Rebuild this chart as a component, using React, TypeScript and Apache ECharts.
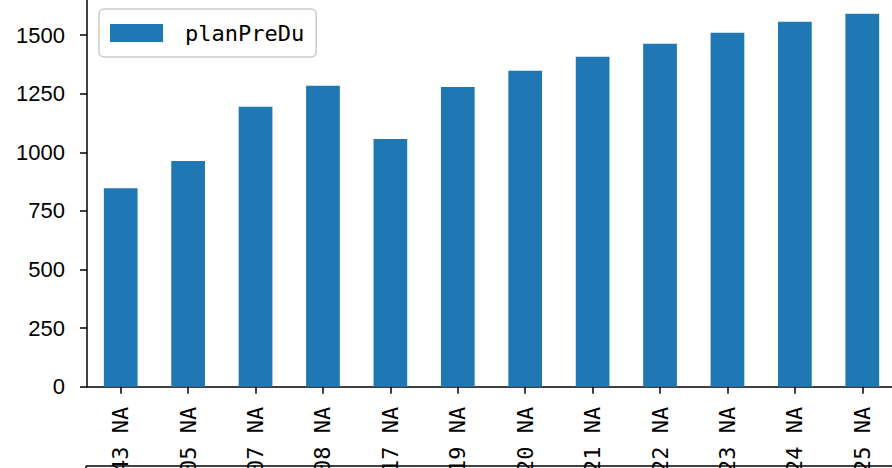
import React, { useEffect, useRef } from "react";
import * as echarts from "echarts";

const categories = ["43 NA", "05 NA", "07 NA", "08 NA", "17 NA", "19 NA", "20 NA", "21 NA", "22 NA", "23 NA", "24 NA", "25 NA"];
const planPreDu = [847, 963, 1194, 1284, 1057, 1279, 1348, 1408, 1463, 1510, 1557, 1591];
const seriesName = "planPreDu";
const yMin = 0;
const yMax = 1650;
const yInterval = 250;

export default function App() {
  const ref = useRef<HTMLDivElement>(null);
  useEffect(() => {
    if (!ref.current) return;
    const chart = echarts.init(ref.current, null, { renderer: "svg" });
    chart.setOption({
      animation: false,
      backgroundColor: "#ffffff",
      grid: { left: 87, width: 809, top: 0, height: 386.7, containLabel: false, outerBoundsMode: "none" },
      legend: {
        left: 99,
        top: 9,
        padding: [13, 12, 13, 11],
        itemWidth: 53,
        itemHeight: 18,
        icon: "rect",
        borderColor: "#cccccc",
        borderWidth: 1.5,
        borderRadius: 5,
        textStyle: {
          fontFamily: "DejaVu Sans Mono",
          fontSize: 22,
          color: "#000",
          padding: [0, 0, 0, 17],
          lineHeight: 18,
        },
        data: [seriesName],
      },
      xAxis: {
        type: "category",
        data: categories,
        boundaryGap: true,
        axisLine: { show: true, lineStyle: { color: "#000", width: 1.5 } },
        axisTick: { show: true, alignWithLabel: true, length: 7, lineStyle: { color: "#000", width: 1.5 } },
        axisLabel: {
          rotate: 90,
          margin: 20,
          interval: 0,
          fontFamily: "DejaVu Sans Mono",
          fontSize: 22,
          color: "#000",
        },
        splitLine: { show: false },
      },
      yAxis: {
        type: "value",
        min: yMin,
        max: yMax,
        interval: yInterval,
        axisLine: { show: true, lineStyle: { color: "#000", width: 1.5 } },
        axisTick: { show: true, length: 7, lineStyle: { color: "#000", width: 1.5 } },
        axisLabel: {
          margin: 22,
          fontFamily: "Liberation Sans",
          fontSize: 22,
          color: "#000",
          showMaxLabel: false,
          formatter: (v: number) => String(v),
        },
        splitLine: { show: false },
      },
      graphic: [
        { type: "line", shape: { x1: 86, y1: 466, x2: 892, y2: 466 }, style: { stroke: "#000", lineWidth: 1.5 }, z: -1 },
        { type: "line", shape: { x1: 86, y1: 466, x2: 86, y2: 468 }, style: { stroke: "#000", lineWidth: 1.5 }, z: -1 },
      ],
      series: [
        {
          name: seriesName,
          type: "bar",
          data: planPreDu,
          barCategoryGap: "50%",
          itemStyle: { color: "#1f77b4" },
        },
      ],
    });
    return () => chart.dispose();
  }, []);
  return (
    <div style={{ width: 892, height: 468, position: "absolute", left: 0, top: 0, overflow: "hidden" }}>
      <div ref={ref} style={{ width: 892, height: 468 }} />
    </div>
  );
}
